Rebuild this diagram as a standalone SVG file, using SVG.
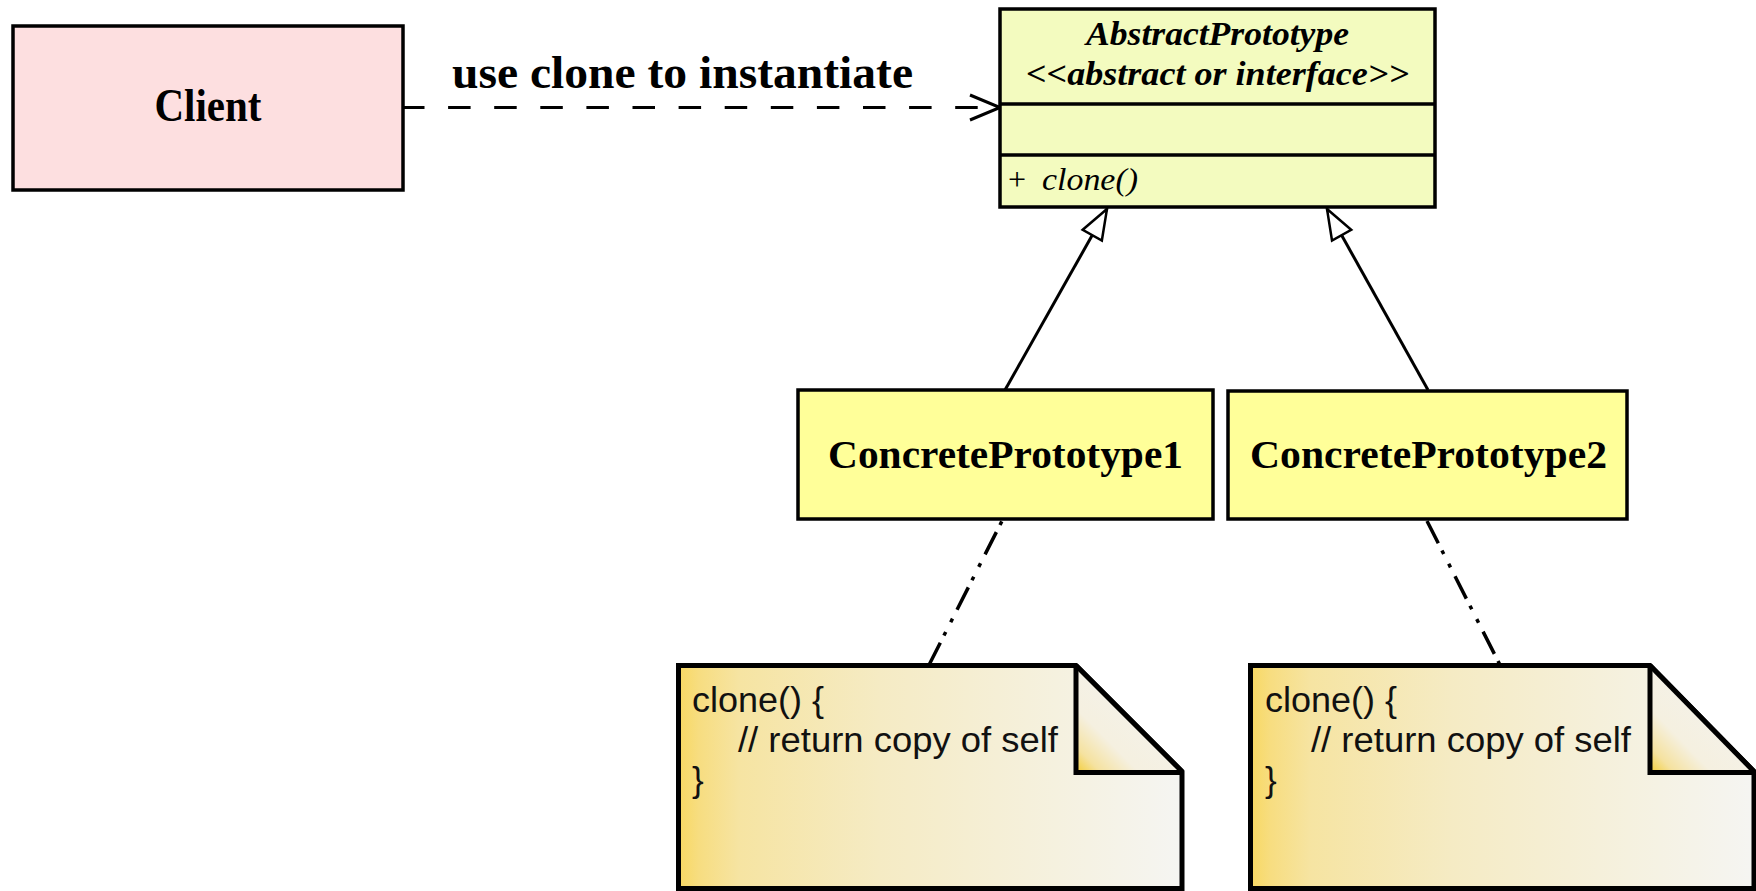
<svg xmlns="http://www.w3.org/2000/svg" width="1756" height="891" viewBox="0 0 1756 891">
  <style>
    .box { stroke: #000; stroke-width: 3.5; }
    .client { fill: #fddfe0; }
    .abstract { fill: #f3fbbf; }
    .concrete { fill: #ffff99; }
    .serif { font-family: "Liberation Serif", "Times New Roman", serif; fill: #000; }
    .bold { font-weight: bold; }
    .ital { font-style: italic; }
    .code { font-family: "Liberation Sans", Arial, sans-serif; font-size: 35px; fill: #111; }
    .note { fill: url(#noteFill); stroke: #000; stroke-width: 5; stroke-linejoin: miter; }
    .fold { fill: url(#foldFill); }
    .dep { fill: none; stroke: #000; stroke-width: 3; stroke-dasharray: 22.5 23.6; }
    .gen { fill: none; stroke: #000; stroke-width: 3; }
    .anchor { fill: none; stroke: #000; stroke-width: 3.5; stroke-dasharray: 25 8 4 11 4 10; }
  </style>
  <defs>
    <linearGradient id="noteFill" x1="0" y1="0" x2="1" y2="0">
      <stop offset="0" stop-color="#f8d862"/>
      <stop offset="0.04" stop-color="#f7dd80"/>
      <stop offset="0.12" stop-color="#f6e4a2"/>
      <stop offset="0.4" stop-color="#f5ebc4"/>
      <stop offset="0.75" stop-color="#f5f1df"/>
      <stop offset="1" stop-color="#f5f5f2"/>
    </linearGradient>
    <linearGradient id="foldFill" x1="0" y1="1" x2="1" y2="0">
      <stop offset="0" stop-color="#f3cd35"/>
      <stop offset="0.12" stop-color="#f5e2a0"/>
      <stop offset="0.3" stop-color="#f5f0e0"/>
      <stop offset="1" stop-color="#f3f3f3"/>
    </linearGradient>
    <marker id="openArrow" markerUnits="userSpaceOnUse" markerWidth="40" markerHeight="34" refX="30" refY="15" orient="auto" overflow="visible">
      <path d="M0,2.5 L30,15 L0,27.5" fill="none" stroke="#000" stroke-width="3"/>
    </marker>
    <marker id="hollowTri" markerUnits="userSpaceOnUse" markerWidth="40" markerHeight="34" refX="30" refY="15" orient="auto" overflow="visible">
      <path d="M0,4 L30,15 L0,26 Z" fill="#fff" stroke="#000" stroke-width="2.5"/>
    </marker>
  </defs>

  <!-- connectors -->
  <g id="connectors">
    <path class="dep" d="M402,107.5 L1000,107.5" marker-end="url(#openArrow)"/>
    <path class="gen" d="M1005,390 L1107,209" marker-end="url(#hollowTri)"/>
    <path class="gen" d="M1428,390 L1327,209" marker-end="url(#hollowTri)"/>
    <path class="anchor" d="M929,665 L1002,521"/>
    <path class="anchor" d="M1427,521 L1500,665"/>
    <text class="serif bold" x="452" y="88" font-size="46" textLength="461" lengthAdjust="spacingAndGlyphs">use clone to instantiate</text>
  </g>

  <!-- Client -->
  <g id="client">
    <rect class="box client" x="13" y="26" width="390" height="164" stroke-width="4"/>
    <text class="serif bold" x="208" y="121" font-size="47" text-anchor="middle" textLength="107" lengthAdjust="spacingAndGlyphs">Client</text>
  </g>

  <!-- AbstractPrototype -->
  <g id="abstract-prototype">
    <rect class="box abstract" x="1000" y="9" width="435" height="198"/>
    <line x1="1000" y1="104" x2="1435" y2="104" stroke="#000" stroke-width="3.5"/>
    <line x1="1000" y1="155" x2="1435" y2="155" stroke="#000" stroke-width="3.5"/>
    <text class="serif bold ital" x="1217.5" y="45" font-size="34" text-anchor="middle" textLength="263" lengthAdjust="spacingAndGlyphs">AbstractPrototype</text>
    <text class="serif bold ital" x="1217.5" y="85" font-size="34" text-anchor="middle" textLength="383" lengthAdjust="spacingAndGlyphs">&lt;&lt;abstract or interface&gt;&gt;</text>
    <text class="serif" x="1008" y="190" font-size="32">+</text>
    <text class="serif ital" x="1042" y="190" font-size="32" textLength="96" lengthAdjust="spacingAndGlyphs">clone()</text>
  </g>

  <!-- ConcretePrototype1 -->
  <g id="concrete-prototype-1">
    <rect class="box concrete" x="798" y="390" width="415" height="129"/>
    <text class="serif bold" x="1005.5" y="468" font-size="41" text-anchor="middle" textLength="355" lengthAdjust="spacingAndGlyphs">ConcretePrototype1</text>
  </g>

  <!-- ConcretePrototype2 -->
  <g id="concrete-prototype-2">
    <rect class="box concrete" x="1228" y="391" width="399" height="128"/>
    <text class="serif bold" x="1428.5" y="468" font-size="41" text-anchor="middle" textLength="357" lengthAdjust="spacingAndGlyphs">ConcretePrototype2</text>
  </g>

  <!-- note attached to ConcretePrototype1 -->
  <g id="note-1">
    <path class="note" d="M678.5,888.5 L678.5,665.5 L1076,665.5 L1182,771.5 L1182,888.5 Z"/>
    <path class="fold" d="M1076,665.5 L1076,772.5 L1182,772.5 Z"/>
    <path d="M1076,665.5 L1076,772.5 L1182,772.5" fill="none" stroke="#000" stroke-width="5"/>
    <path d="M1076,665.5 L1182,771.5" fill="none" stroke="#000" stroke-width="5"/>
    <text class="code" x="692" y="712" textLength="132" lengthAdjust="spacingAndGlyphs">clone() {</text>
    <text class="code" x="738" y="752" textLength="320" lengthAdjust="spacingAndGlyphs">// return copy of self</text>
    <text class="code" x="692" y="792">}</text>
  </g>

  <!-- note attached to ConcretePrototype2 -->
  <g id="note-2">
    <path class="note" d="M1250.5,888.5 L1250.5,665.5 L1650,665.5 L1754,771.5 L1754,888.5 Z"/>
    <path class="fold" d="M1650,665.5 L1650,772.5 L1754,772.5 Z"/>
    <path d="M1650,665.5 L1650,772.5 L1754,772.5" fill="none" stroke="#000" stroke-width="5"/>
    <path d="M1650,665.5 L1754,771.5" fill="none" stroke="#000" stroke-width="5"/>
    <text class="code" x="1265" y="712" textLength="132" lengthAdjust="spacingAndGlyphs">clone() {</text>
    <text class="code" x="1311" y="752" textLength="320" lengthAdjust="spacingAndGlyphs">// return copy of self</text>
    <text class="code" x="1265" y="792">}</text>
  </g>
</svg>
